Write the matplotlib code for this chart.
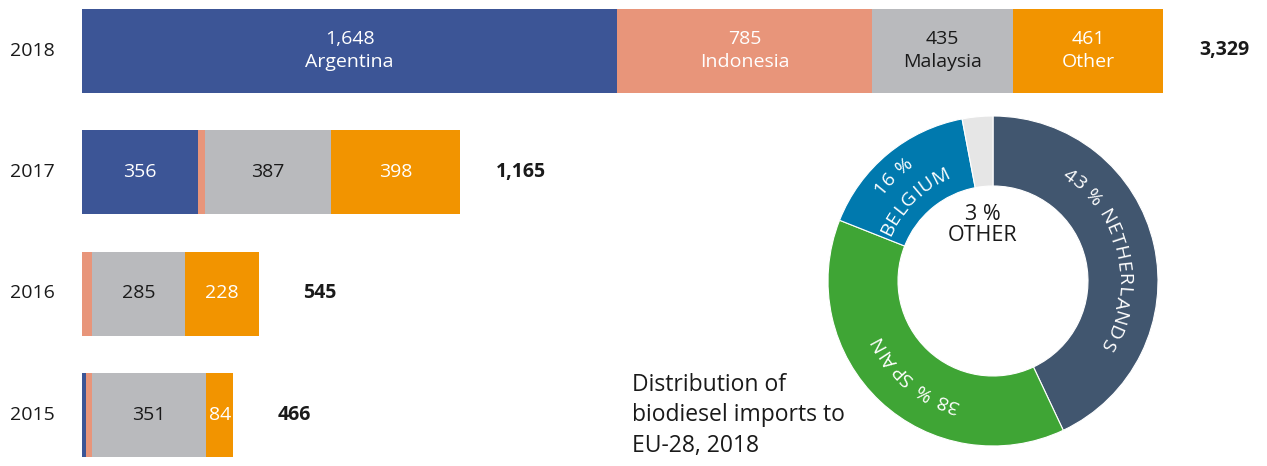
import matplotlib
matplotlib.use("Agg")
import matplotlib.pyplot as plt
import numpy as np
from matplotlib import font_manager
from matplotlib.ft2font import FT2Font

plt.rcParams["font.family"] = ["Open Sans", "DejaVu Sans"]

# stacked bars: biodiesel imports by origin (kt)
years = ["2018", "2017", "2016", "2015"]
argentina = [1648, 356, 0, 12]
indonesia = [785, 24, 32, 19]
malaysia = [435, 387, 285, 351]
other = [461, 398, 228, 84]
totals = [3329, 1165, 545, 466]
origin_names = ["Argentina", "Indonesia", "Malaysia", "Other"]

# donut: destination shares 2018
dest_names = ["NETHERLANDS", "SPAIN", "BELGIUM", "OTHER"]
dest_shares = [43, 38, 16, 3]

bar_colors = ["#3c5596", "#e8957a", "#b9babd", "#f29400"]
bar_text = ["white", "white", "#1a1a1a", "white"]
donut_colors = ["#41566f", "#3fa535", "#0079ae", "#e6e6e6"]

W, H = 1267, 466
DPI = 100
fig = plt.figure(figsize=(W / DPI, H / DPI), dpi=DPI)

# ---- bar chart ----
ax = fig.add_axes([82 / W, 0, (1163 - 82) / W, 1])
ax.set_xlim(0, totals[0])
row_px = 121.5
ax.set_ylim((H - 50.5) / row_px, -50.5 / row_px)
ax.axis("off")

series = [argentina, indonesia, malaysia, other]
ypos = np.arange(len(years))
left = np.zeros(len(years))
for si, vals in enumerate(series):
    vals = np.array(vals, dtype=float)
    ax.barh(ypos, vals, left=left, height=84 / row_px, color=bar_colors[si], linewidth=0)
    for i, v in enumerate(vals):
        if v < 80:
            continue
        label = f"{int(v):,}"
        if i == 0:
            label += "\n" + origin_names[si]
        ax.text(left[i] + v / 2, ypos[i], label, ha="center", va="center",
                fontsize=14, color=bar_text[si], linespacing=1.35)
    left += vals

for i, y in enumerate(years):
    ax.text(-72 / 1081, ypos[i], y, transform=ax.get_yaxis_transform(),
            ha="left", va="center", fontsize=14, color="#1a1a1a")
    ax.annotate(f"{totals[i]:,}", (totals[i], ypos[i]), xytext=(44, 0),
                textcoords="offset points", ha="center", va="center",
                fontsize=14, fontweight="bold", color="#1a1a1a")

fig.text(632 / W, 1 - 373 / H, "Distribution of\nbiodiesel imports to\nEU-28, 2018",
         ha="left", va="top", fontsize=16.5, linespacing=1.36, color="#1a1a1a")

# ---- donut ----
R = 165
cx, cy = 993, 281
dax = fig.add_axes([(cx - R) / W, (H - cy - R) / H, 2 * R / W, 2 * R / H])
dax.pie(dest_shares, colors=donut_colors, startangle=90, counterclock=False, radius=1,
        wedgeprops=dict(width=70 / R, edgecolor="white", linewidth=0.8))
dax.set_xlim(-1, 1)
dax.set_ylim(-1, 1)
dax.set_aspect("equal")
dax.axis("off")

font_file = font_manager.findfont(font_manager.FontProperties(family="Open Sans"))


def advances(s, size, tracking=1.0):
    # glyph advance widths in pixels, plus a little letter spacing
    ft = FT2Font(font_file)
    ft.set_size(size, DPI)
    return [ft.load_char(ord(ch)).linearHoriAdvance / 65536 + tracking for ch in s]


def curved_text(s, center_deg, radius, size, color="white"):
    adv = advances(s, size)
    r_px = radius * R
    pos = np.concatenate([[0], np.cumsum(adv)])
    start = center_deg - np.degrees(pos[-1] / r_px) / 2
    for k, ch in enumerate(s):
        if ch == " ":
            continue
        a = start + np.degrees((pos[k] + pos[k + 1]) / 2 / r_px)
        rad = np.radians(a)
        dax.text(radius * np.sin(rad), radius * np.cos(rad), ch, fontsize=size,
                 color=color, rotation=-a, rotation_mode="anchor",
                 ha="center", va="center")


# label centre angles (clockwise from top) from cumulative shares
cum = np.cumsum([0] + dest_shares) / sum(dest_shares) * 360
mid = (cum[:-1] + cum[1:]) / 2
curved_text(f"{dest_shares[0]} % {dest_names[0]}", mid[0], 130 / R, 14)
curved_text(f"{dest_shares[1]} % {dest_names[1]}", mid[1] - 3, 130 / R, 14)
curved_text(f"{dest_shares[2]} %", mid[2] - 4, 145 / R, 14)
curved_text(dest_names[2], mid[2] - 5, 117 / R, 14)
dax.text(-10 / R, 56 / R, f"{dest_shares[3]} %\n{dest_names[3]}", ha="center", va="center",
         fontsize=15.5, linespacing=1.0, color="#1a1a1a")

fig.savefig("out.png", dpi=DPI)
